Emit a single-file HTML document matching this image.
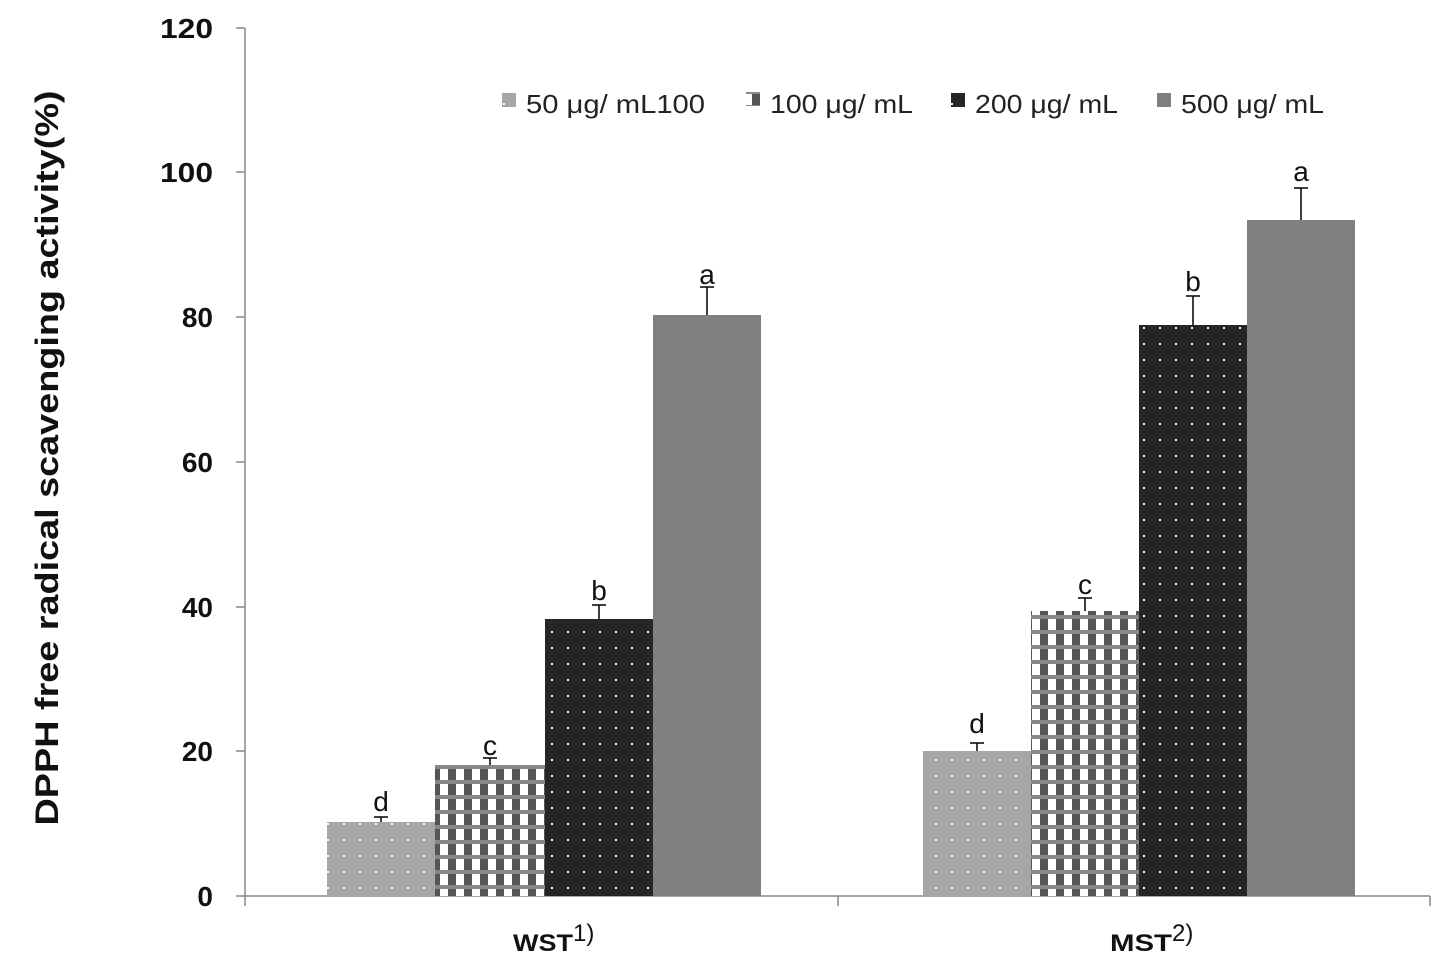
<!DOCTYPE html>
<html><head><meta charset="utf-8"><style>body{margin:0;background:#fff}svg{display:block}</style></head>
<body>
<svg width="1455" height="966" xmlns="http://www.w3.org/2000/svg" font-family="'Liberation Sans',sans-serif">
<defs>
<pattern id="dl" width="16" height="16" patternUnits="userSpaceOnUse"><rect width="16" height="16" fill="#a6a6a6"/><rect x="7" y="7" width="2" height="2" fill="#fff"/></pattern>
<pattern id="dd" width="16" height="16" patternUnits="userSpaceOnUse"><rect width="16" height="16" fill="#262626"/><rect x="7" y="7" width="2" height="2" fill="#fff"/></pattern>
<pattern id="ck" width="16" height="15" patternUnits="userSpaceOnUse"><rect width="16" height="15" fill="#fff"/><rect x="0" y="0" width="8" height="15" fill="#555"/><rect x="0" y="0" width="16" height="4" fill="#888"/></pattern>
</defs>
<g stroke="#888" stroke-width="1.5" fill="none">
<line x1="245" y1="28" x2="245" y2="896"/>
<line x1="245" y1="896" x2="1430" y2="896"/>
<line x1="236" y1="28" x2="245" y2="28"/><line x1="236" y1="172" x2="245" y2="172"/><line x1="236" y1="317" x2="245" y2="317"/><line x1="236" y1="462" x2="245" y2="462"/><line x1="236" y1="607" x2="245" y2="607"/><line x1="236" y1="751" x2="245" y2="751"/><line x1="236" y1="896" x2="245" y2="896"/>
<line x1="838" y1="896" x2="838" y2="906"/><line x1="1430" y1="896" x2="1430" y2="906"/><line x1="245" y1="896" x2="245" y2="906"/>
</g>
<g font-size="28" font-weight="bold" text-anchor="end" fill="#111">
<text x="213" y="38" textLength="53" lengthAdjust="spacingAndGlyphs">120</text><text x="213" y="182" textLength="53" lengthAdjust="spacingAndGlyphs">100</text><text x="213" y="327">80</text><text x="213" y="472">60</text><text x="213" y="617">40</text><text x="213" y="761">20</text><text x="213" y="906">0</text>
</g>
<text transform="translate(58,458) rotate(-90)" font-size="32" font-weight="bold" text-anchor="middle" fill="#111" textLength="735" lengthAdjust="spacingAndGlyphs">DPPH free radical scavenging activity(%)</text>
<rect x="327" y="822" width="108" height="74" fill="url(#dl)"/>
<rect x="435" y="765" width="110" height="131" fill="url(#ck)"/>
<rect x="545" y="619" width="108" height="277" fill="url(#dd)"/>
<rect x="653" y="315" width="108" height="581" fill="#808080"/>
<rect x="923" y="751" width="108" height="145" fill="url(#dl)"/>
<rect x="1031" y="611" width="108" height="285" fill="url(#ck)"/>
<rect x="1139" y="325" width="108" height="571" fill="url(#dd)"/>
<rect x="1247" y="220" width="108" height="676" fill="#808080"/>
<g stroke="#000" stroke-width="1.5">
<line x1="381" y1="822" x2="381" y2="817"/><line x1="374" y1="817" x2="388" y2="817"/>
<line x1="490" y1="765" x2="490" y2="758"/><line x1="483" y1="758" x2="497" y2="758"/>
<line x1="599" y1="619" x2="599" y2="605"/><line x1="592" y1="605" x2="606" y2="605"/>
<line x1="707" y1="315" x2="707" y2="287"/><line x1="700" y1="287" x2="714" y2="287"/>
<line x1="977" y1="751" x2="977" y2="743"/><line x1="970" y1="743" x2="984" y2="743"/>
<line x1="1085" y1="611" x2="1085" y2="598"/><line x1="1078" y1="598" x2="1092" y2="598"/>
<line x1="1193" y1="325" x2="1193" y2="296"/><line x1="1186" y1="296" x2="1200" y2="296"/>
<line x1="1301" y1="220" x2="1301" y2="188"/><line x1="1294" y1="188" x2="1308" y2="188"/>
</g>
<g font-size="28" text-anchor="middle" fill="#111">
<text x="381" y="811">d</text><text x="490" y="755">c</text><text x="599" y="600">b</text><text x="707" y="284">a</text>
<text x="977" y="733">d</text><text x="1085" y="594">c</text><text x="1193" y="291">b</text><text x="1301" y="181">a</text>
</g>
<text x="513" y="951" font-size="24" font-weight="bold" fill="#111" textLength="60" lengthAdjust="spacingAndGlyphs">WST</text><text x="573" y="941" font-size="24" fill="#111">1)</text>
<text x="1110" y="951" font-size="24" font-weight="bold" fill="#111" textLength="62" lengthAdjust="spacingAndGlyphs">MST</text><text x="1172" y="941" font-size="24" fill="#111">2)</text>
<g font-size="26" fill="#222">
<rect x="502" y="93" width="14" height="14" fill="url(#dl)"/><text x="526" y="113" textLength="179" lengthAdjust="spacingAndGlyphs">50 μg/ mL100</text>
<rect x="746" y="92" width="14" height="14" fill="url(#ck)"/><text x="770" y="113" textLength="143" lengthAdjust="spacingAndGlyphs">100 μg/ mL</text>
<rect x="951" y="93" width="14" height="14" fill="url(#dd)"/><text x="975" y="113" textLength="143" lengthAdjust="spacingAndGlyphs">200 μg/ mL</text>
<rect x="1157" y="93" width="14" height="14" fill="#808080"/><text x="1181" y="113" textLength="143" lengthAdjust="spacingAndGlyphs">500 μg/ mL</text>
</g>
</svg>
</body></html>
